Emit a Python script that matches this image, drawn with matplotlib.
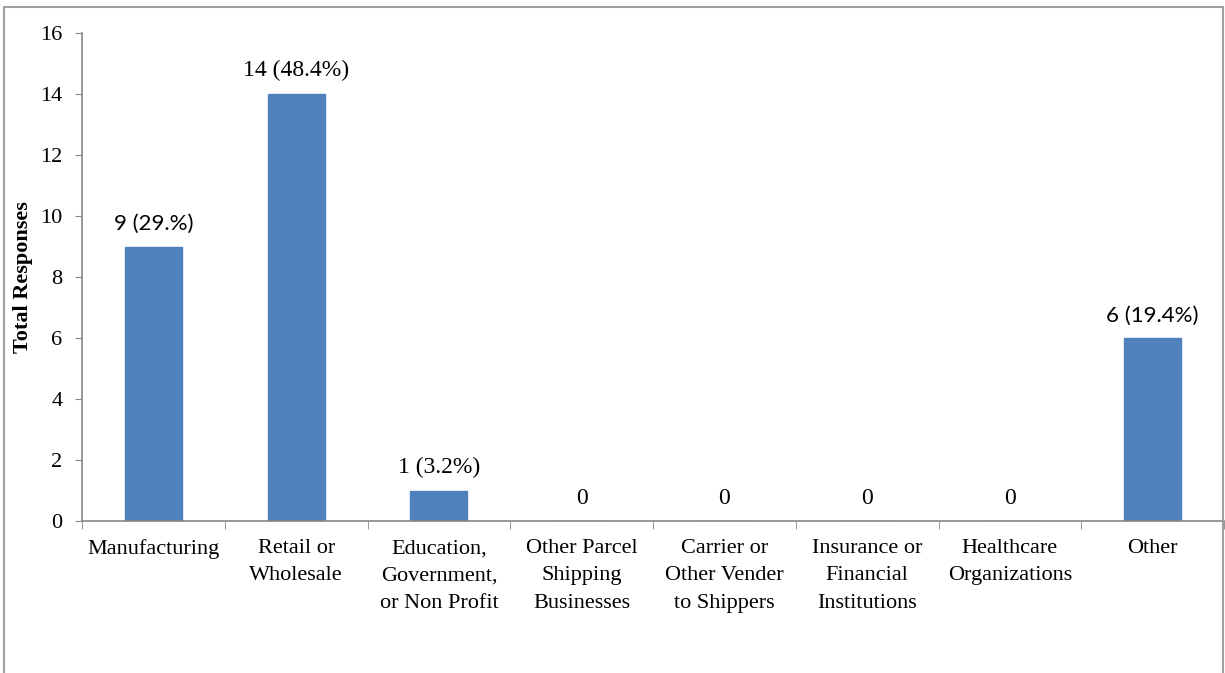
import numpy as np
import matplotlib
matplotlib.use("Agg")
import matplotlib.pyplot as plt
from matplotlib.patches import Rectangle

# chart data
categories = ["Manufacturing", "Retail or\nWholesale", "Education,\nGovernment,\nor Non Profit",
              "Other Parcel\nShipping\nBusinesses", "Carrier or\nOther Vender\nto Shippers",
              "Insurance or\nFinancial\nInstitutions", "Healthcare\nOrganizations", "Other"]
responses = [9, 14, 1, 0, 0, 0, 0, 6]
bar_labels = ["9 (29.%)", "14 (48.4%)", "1 (3.2%)", "0", "0", "0", "0", "6 (19.4%)"]
# two of the labels in the original are set in a sans face
sans_labels = [True, False, False, False, False, False, False, True]
y_ticks = [0, 2, 4, 6, 8, 10, 12, 14, 16]

plt.rcParams['font.family'] = ['Liberation Serif', 'DejaVu Serif']

fig = plt.figure(figsize=(12.25, 6.73), dpi=100)
ax = fig.add_axes([82/1225, 1 - 521/673, 1 - 82/1225 - 1/1225, (521 - 33)/673])

x = np.arange(len(categories))
bars = ax.bar(x, responses, width=0.4, color="#4F81BD", edgecolor="#4F81BD")

# value labels above bars
for xi, v, lab, sans in zip(x, responses, bar_labels, sans_labels):
    fam = ['Lato', 'DejaVu Sans'] if sans else ['Liberation Serif', 'DejaVu Serif']
    ax.annotate(lab, (xi, v), xytext=(0, 9), textcoords="offset points",
                ha="center", va="bottom", fontsize=17 if not sans else 16, family=fam)

ax.set_xlim(-0.5, len(categories) - 0.5)
ax.set_ylim(0, 16)
ax.set_yticks(y_ticks)
ax.tick_params(axis="y", labelsize=16, direction="out", length=5, color="#868686", pad=9)

# category labels centred, ticks at boundaries
ax.set_xticks(x)
ax.set_xticklabels(categories, fontsize=16, linespacing=1.6)
ax.tick_params(axis="x", which="major", length=0, pad=13)
ax.set_xticks(np.arange(-0.5, len(categories)), minor=True)
ax.tick_params(axis="x", which="minor", direction="out", length=6, color="#868686")

for s in ["top", "right"]:
    ax.spines[s].set_visible(False)
for s in ["left", "bottom"]:
    ax.spines[s].set_color("#868686")
    ax.spines[s].set_linewidth(1.2)

ax.set_ylabel("Total Responses", fontsize=16, fontweight="bold", labelpad=5)

# outer chart frame
frame = Rectangle((4/1225, -0.05), (1223 - 4)/1225, 1 - 7/673 + 0.05,
                  transform=fig.transFigure, fill=False, edgecolor="#A0A0A0",
                  linewidth=1.5, clip_on=False)
fig.patches.append(frame)

fig.savefig("out.png", dpi=100)
